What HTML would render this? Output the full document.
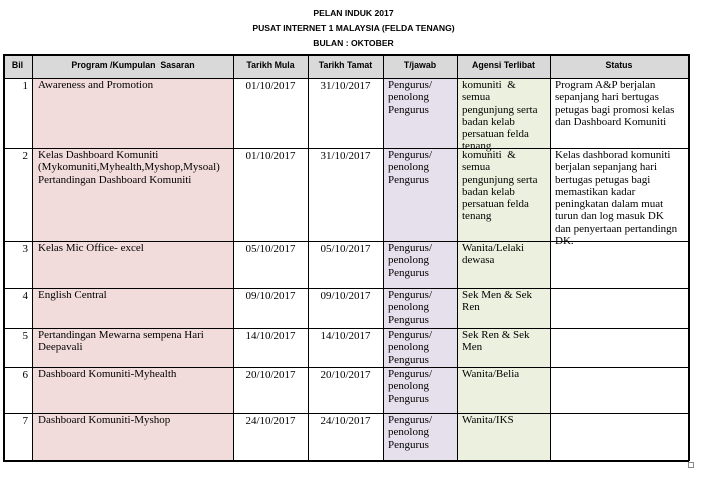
<!DOCTYPE html>
<html><head><meta charset="utf-8"><style>
body{margin:0;width:707px;height:482px;background:#fff;position:relative;overflow:hidden}
.t{position:absolute;left:0;width:707px;text-align:center;font:bold 8.6px "Liberation Sans",sans-serif;color:#000}
.bg{position:absolute}
.h{position:absolute;height:1px;background:#000;left:3px;width:686px}
.v{position:absolute;width:1px;background:#000;top:54px;height:407px}
.c{position:absolute;font:11px/12.3px "Liberation Serif",serif;color:#000;white-space:nowrap;margin-top:1px}
.hd{position:absolute;top:60px;font:bold 8.8px "Liberation Sans",sans-serif;text-align:center}
.n{position:absolute;left:4px;width:24px;text-align:right;font:11px "Liberation Serif",serif;margin-top:1px}
.d{position:absolute;width:75px;text-align:center;font:11px "Liberation Serif",serif;margin-top:1px}
</style></head><body>
<div class="t" style="top:8px">PELAN INDUK 2017</div>
<div class="t" style="top:23px">PUSAT INTERNET 1 MALAYSIA (FELDA TENANG)</div>
<div class="t" style="top:38px">BULAN : OKTOBER</div>

<div class="bg" style="left:3px;top:54px;width:686px;height:24px;background:#d9d9d9"></div>
<div class="bg" style="left:33px;top:78px;width:200px;height:382px;background:#f2dcdb"></div>
<div class="bg" style="left:384px;top:78px;width:73px;height:382px;background:#e5e0ec"></div>
<div class="bg" style="left:458px;top:78px;width:92px;height:382px;background:#ebf1de"></div>

<div class="h" style="top:54px;height:2px"></div>
<div class="h" style="top:78px"></div>
<div class="h" style="top:148px"></div>
<div class="h" style="top:241px"></div>
<div class="h" style="top:288px"></div>
<div class="h" style="top:328px"></div>
<div class="h" style="top:367px"></div>
<div class="h" style="top:413px"></div>
<div class="h" style="top:460px;height:2px"></div>
<div class="v" style="left:3px;width:2px"></div>
<div class="v" style="left:32px"></div>
<div class="v" style="left:233px"></div>
<div class="v" style="left:308px"></div>
<div class="v" style="left:383px"></div>
<div class="v" style="left:457px"></div>
<div class="v" style="left:550px"></div>
<div class="v" style="left:688px;width:2px"></div>
<div style="position:absolute;left:688px;top:462px;width:4px;height:4px;border:1px solid #888"></div>

<div class="hd" style="left:3px;width:29px">Bil</div>
<div class="hd" style="left:33px;width:200px">Program /Kumpulan&nbsp; Sasaran</div>
<div class="hd" style="left:233px;width:75px">Tarikh Mula</div>
<div class="hd" style="left:308px;width:75px">Tarikh Tamat</div>
<div class="hd" style="left:383px;width:74px">T/jawab</div>
<div class="hd" style="left:457px;width:93px">Agensi Terlibat</div>
<div class="hd" style="left:550px;width:138px">Status</div>

<div class="n" style="top:79px">1</div>
<div class="c" style="left:38px;top:78px">Awareness and Promotion</div>
<div class="d" style="left:233px;top:79px">01/10/2017</div>
<div class="d" style="left:308px;top:79px">31/10/2017</div>
<div class="c" style="left:388px;top:78px">Pengurus/<br>penolong<br>Pengurus</div>
<div class="c" style="left:462px;top:78px">komuniti&nbsp; &amp;<br>semua<br>pengunjung serta<br>badan kelab<br>persatuan felda<br>tenang</div>
<div class="c" style="left:555px;top:78px">Program A&amp;P berjalan<br>sepanjang hari bertugas<br>petugas bagi promosi kelas<br>dan Dashboard Komuniti</div>

<div class="n" style="top:149px">2</div>
<div class="c" style="left:38px;top:148px">Kelas Dashboard Komuniti<br>(Mykomuniti,Myhealth,Myshop,Mysoal)<br>Pertandingan Dashboard Komuniti</div>
<div class="d" style="left:233px;top:149px">01/10/2017</div>
<div class="d" style="left:308px;top:149px">31/10/2017</div>
<div class="c" style="left:388px;top:148px">Pengurus/<br>penolong<br>Pengurus</div>
<div class="c" style="left:462px;top:148px">komuniti&nbsp; &amp;<br>semua<br>pengunjung serta<br>badan kelab<br>persatuan felda<br>tenang</div>
<div class="c" style="left:555px;top:148px">Kelas dashborad komuniti<br>berjalan sepanjang hari<br>bertugas petugas bagi<br>memastikan kadar<br>peningkatan dalam muat<br>turun dan log masuk DK<br>dan penyertaan pertandingn<br>DK.</div>

<div class="n" style="top:242px">3</div>
<div class="c" style="left:38px;top:241px">Kelas Mic Office- excel</div>
<div class="d" style="left:233px;top:242px">05/10/2017</div>
<div class="d" style="left:308px;top:242px">05/10/2017</div>
<div class="c" style="left:388px;top:241px">Pengurus/<br>penolong<br>Pengurus</div>
<div class="c" style="left:462px;top:241px">Wanita/Lelaki<br>dewasa</div>

<div class="n" style="top:289px">4</div>
<div class="c" style="left:38px;top:288px">English Central</div>
<div class="d" style="left:233px;top:289px">09/10/2017</div>
<div class="d" style="left:308px;top:289px">09/10/2017</div>
<div class="c" style="left:388px;top:288px">Pengurus/<br>penolong<br>Pengurus</div>
<div class="c" style="left:462px;top:288px">Sek Men &amp; Sek<br>Ren</div>

<div class="n" style="top:329px">5</div>
<div class="c" style="left:38px;top:328px">Pertandingan Mewarna sempena Hari<br>Deepavali</div>
<div class="d" style="left:233px;top:329px">14/10/2017</div>
<div class="d" style="left:308px;top:329px">14/10/2017</div>
<div class="c" style="left:388px;top:328px">Pengurus/<br>penolong<br>Pengurus</div>
<div class="c" style="left:462px;top:328px">Sek Ren &amp; Sek<br>Men</div>

<div class="n" style="top:368px">6</div>
<div class="c" style="left:38px;top:367px">Dashboard Komuniti-Myhealth</div>
<div class="d" style="left:233px;top:368px">20/10/2017</div>
<div class="d" style="left:308px;top:368px">20/10/2017</div>
<div class="c" style="left:388px;top:367px">Pengurus/<br>penolong<br>Pengurus</div>
<div class="c" style="left:462px;top:367px">Wanita/Belia</div>

<div class="n" style="top:414px">7</div>
<div class="c" style="left:38px;top:413px">Dashboard Komuniti-Myshop</div>
<div class="d" style="left:233px;top:414px">24/10/2017</div>
<div class="d" style="left:308px;top:414px">24/10/2017</div>
<div class="c" style="left:388px;top:413px">Pengurus/<br>penolong<br>Pengurus</div>
<div class="c" style="left:462px;top:413px">Wanita/IKS</div>
</body></html>
